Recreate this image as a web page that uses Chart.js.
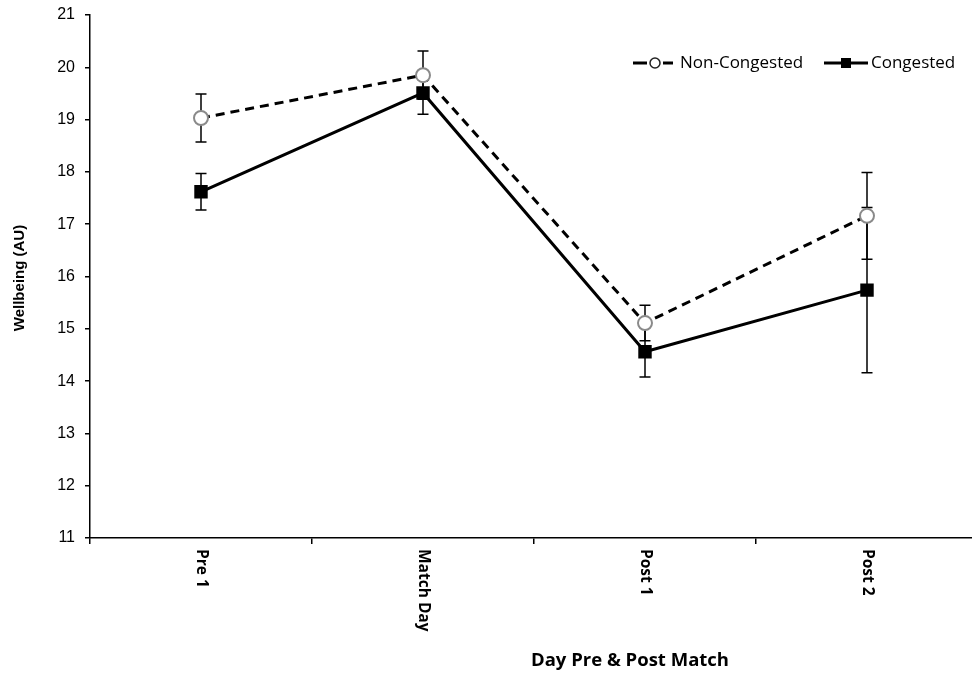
<!DOCTYPE html>
<html>
<head>
<meta charset="utf-8">
<script src="https://cdn.jsdelivr.net/npm/chart.js@4.4.0/dist/chart.umd.min.js"></script>
<style>
  html, body { margin: 0; padding: 0; background: #fff; overflow: hidden; }
  #wrap { width: 990px; height: 675px; }
  #chart { width: 990px; height: 675px; }
</style>
</head>
<body>
<div id="wrap"><canvas id="chart" width="990" height="675"></canvas></div>
<script>
// Wellbeing across match days
const days = ['Pre 1', 'Match Day', 'Post 1', 'Post 2'];
const nonCongested = [19.03, 19.85, 15.11, 17.16];
const nonCongestedErr = [0.46, 0.46, 0.34, 0.83];
const congested = [17.62, 19.51, 14.56, 15.74];
const congestedErr = [0.35, 0.41, 0.48, 1.58];
const yTicks = [11, 12, 13, 14, 15, 16, 17, 18, 19, 20, 21];

// error bars go under the markers
const errorBars = {
  id: 'errorBars',
  beforeDatasetsDraw(chart) {
    const ctx = chart.ctx;
    const y = chart.scales.y;
    const errs = [nonCongestedErr, congestedErr];
    ctx.save();
    ctx.strokeStyle = '#000';
    ctx.lineWidth = 1.5;
    chart.data.datasets.forEach((ds, i) => {
      chart.getDatasetMeta(i).data.forEach((pt, j) => {
        const top = y.getPixelForValue(ds.data[j] + errs[i][j]);
        const bot = y.getPixelForValue(ds.data[j] - errs[i][j]);
        ctx.beginPath();
        ctx.moveTo(pt.x, top); ctx.lineTo(pt.x, bot);
        ctx.moveTo(pt.x - 5.5, top); ctx.lineTo(pt.x + 5.5, top);
        ctx.moveTo(pt.x - 5.5, bot); ctx.lineTo(pt.x + 5.5, bot);
        ctx.stroke();
      });
    });
    ctx.restore();
  }
};

// rotated category labels, titles, legend
const decorations = {
  id: 'decorations',
  afterDraw(chart) {
    const ctx = chart.ctx;
    const x = chart.scales.x;
    const area = chart.chartArea;
    ctx.save();
    ctx.fillStyle = '#000';

    ctx.font = 'bold 15.5px "Open Sans"';
    ctx.textAlign = 'left';
    ctx.textBaseline = 'middle';
    days.forEach((d, i) => {
      ctx.save();
      ctx.translate(x.getPixelForValue(i), area.bottom + 11);
      ctx.rotate(Math.PI / 2);
      ctx.fillText(d, 0, 0);
      ctx.restore();
    });

    ctx.font = 'bold 18.5px "Open Sans"';
    ctx.textAlign = 'center';
    ctx.fillText('Day Pre & Post Match', 630, 661);

    ctx.save();
    ctx.font = 'bold 15px "Liberation Sans"';
    ctx.translate(20, 278);
    ctx.rotate(-Math.PI / 2);
    ctx.fillText('Wellbeing (AU)', 0, 0);
    ctx.restore();

    // legend
    const ly = 63;
    ctx.strokeStyle = '#000';
    ctx.lineWidth = 3;
    ctx.beginPath();
    ctx.moveTo(633, ly); ctx.lineTo(647, ly);
    ctx.moveTo(663, ly); ctx.lineTo(673, ly);
    ctx.stroke();
    ctx.beginPath();
    ctx.arc(655, ly, 5, 0, Math.PI * 2);
    ctx.fillStyle = '#fff';
    ctx.fill();
    ctx.lineWidth = 1.5;
    ctx.strokeStyle = '#222';
    ctx.stroke();

    ctx.strokeStyle = '#000';
    ctx.lineWidth = 3;
    ctx.beginPath();
    ctx.moveTo(824, ly); ctx.lineTo(868, ly);
    ctx.stroke();
    ctx.fillStyle = '#000';
    ctx.fillRect(841, ly - 5, 10, 10);

    ctx.font = '17px "Open Sans"';
    ctx.textAlign = 'left';
    ctx.fillText('Non-Congested', 680, ly);
    ctx.fillText('Congested', 871, ly);
    ctx.restore();
  }
};

new Chart(document.getElementById('chart'), {
  type: 'line',
  data: {
    labels: days,
    datasets: [
      {
        label: 'Non-Congested',
        data: nonCongested,
        borderColor: '#000',
        borderWidth: 3,
        borderDash: [9, 6],
        pointStyle: 'circle',
        pointRadius: 7,
        pointBackgroundColor: '#fff',
        pointBorderColor: '#8a8a8a',
        pointBorderWidth: 2,
        tension: 0
      },
      {
        label: 'Congested',
        data: congested,
        borderColor: '#000',
        borderWidth: 3,
        pointStyle: 'rect',
        pointRadius: 9.5,
        pointBackgroundColor: '#000',
        pointBorderColor: '#000',
        pointBorderWidth: 0,
        tension: 0
      }
    ]
  },
  options: {
    responsive: false,
    animation: false,
    layout: {
      // plot right edge sits at 978px, just past the visible window
      padding: (c) => ({ top: 15, right: c.chart.width - 978, left: 0, bottom: 0 })
    },
    plugins: { legend: { display: false }, tooltip: { enabled: false } },
    scales: {
      x: {
        type: 'category',
        offset: true,
        grid: { offset: true, drawOnChartArea: false, color: '#000', tickLength: 6, lineWidth: 1.5 },
        border: { color: '#000', width: 1.5 },
        ticks: { display: false },
        afterFit(scale) { scale.height = 137; }
      },
      y: {
        min: 11,
        max: 21,
        afterBuildTicks(scale) { scale.ticks = yTicks.map(v => ({ value: v })); },
        grid: { drawOnChartArea: false, color: '#000', tickLength: 5, lineWidth: 1.5 },
        border: { color: '#000', width: 1.5 },
        ticks: { color: '#000', padding: 10, font: { family: '"Liberation Sans"', size: 16 } },
        afterFit(scale) { scale.width = 90; scale.paddingTop = 0; scale.paddingBottom = 0; }
      }
    }
  },
  plugins: [errorBars, decorations]
});
</script>
</body>
</html>
